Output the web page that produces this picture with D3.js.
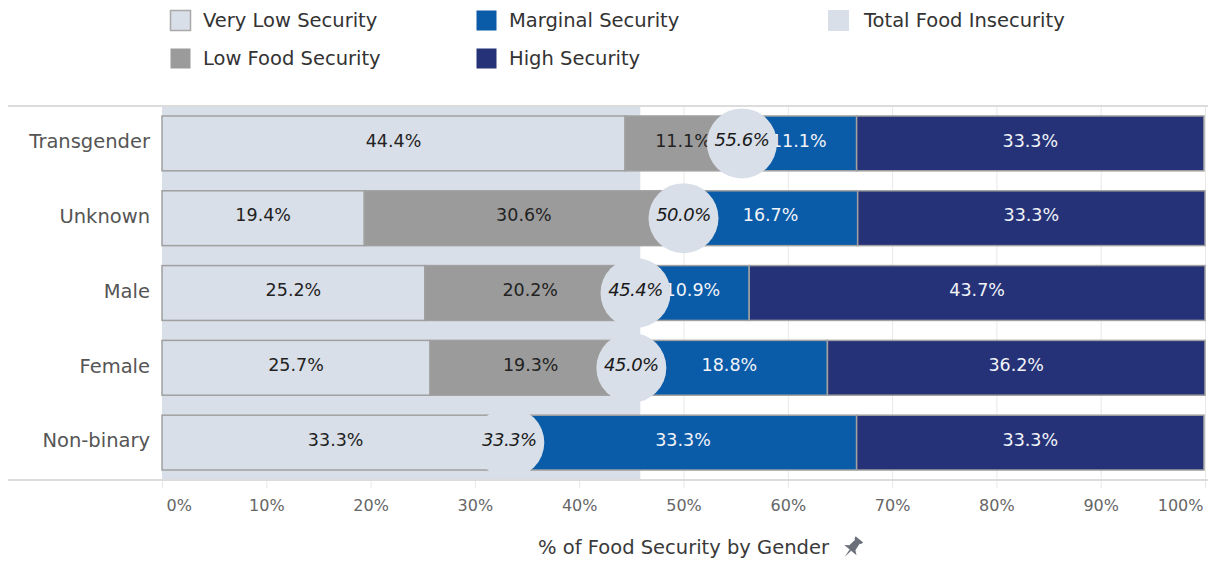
<!DOCTYPE html>
<html lang="en">
<head>
    <meta charset="UTF-8">
    <title>food security by gender</title>
    <script src="https://d3js.org/d3.v7.min.js"></script>
    <style>
    html, body {
        margin: 0;
        padding: 0;
        background: #fff;
    }
    svg text {
        font-family: "DejaVu Sans", "Open Sans", sans-serif;
    }
    .axis path { display: none; }
    .axis line { stroke: #e8e8e8; }
    .axis text { fill: #666; font-size: 16px; }
    </style>
</head>
<body>
<div id="chart"></div>
<script>

    // data (percent)
    var categories = ["Transgender", "Unknown", "Male", "Female", "Non-binary"];
    var veryLow  = [44.4, 19.4, 25.2, 25.7, 33.3];
    var lowFood  = [11.1, 30.6, 20.2, 19.3, 0];
    var marginal = [11.1, 16.7, 10.9, 18.8, 33.3];
    var high     = [33.3, 33.3, 43.7, 36.2, 33.3];
    var totalInsecurity = [55.6, 50.0, 45.4, 45.0, 33.3];

    var seriesNames = ["Very Low Security", "Low Food Security", "Marginal Security", "High Security"];
    var seriesColors = ["#d9dfe8", "#9b9b9b", "#0a5ba8", "#253278"];
    var totalColor = "#d9dfe8";

    var W = 1208, H = 561;
    var plotLeft = 162, plotRight = 1205, plotTop = 106, plotBottom = 480;

    var rows = categories.map(function(c, i) {
        return {cat: c, vl: veryLow[i], lf: lowFood[i], mg: marginal[i], hi: high[i], tot: totalInsecurity[i]};
    });
    var keys = ["vl", "lf", "mg", "hi"];
    var stacked = d3.stack().keys(keys)(rows);

    var x = d3.scaleLinear().domain([0, 100]).range([plotLeft, plotRight]);
    var y = d3.scaleBand().domain(categories).range([plotTop, plotBottom])
        .paddingInner(0.267).paddingOuter(0.1335);

    var svg = d3.select("#chart").append("svg")
        .attr("width", W)
        .attr("height", H);

    // legend
    var legendPos = [[170, 10], [170, 48], [476, 10], [476, 48]];
    var legend = svg.append("g");
    seriesNames.forEach(function(name, i) {
        var g = legend.append("g").attr("transform", "translate(" + legendPos[i][0] + "," + legendPos[i][1] + ")");
        g.append("rect")
            .attr("x", 0.5).attr("y", 0.5)
            .attr("width", 20).attr("height", 20)
            .attr("fill", seriesColors[i])
            .attr("stroke", i === 0 ? "#a9a9a9" : "none")
            .attr("stroke-width", 1.5);
        g.append("text")
            .attr("x", 33).attr("y", 17)
            .attr("font-size", 19.5)
            .attr("fill", "#333")
            .text(name);
    });
    var lt = legend.append("g").attr("transform", "translate(828,10)");
    lt.append("rect").attr("width", 21).attr("height", 21).attr("fill", totalColor);
    lt.append("text").attr("x", 36).attr("y", 17).attr("font-size", 19.5).attr("fill", "#333")
        .text("Total Food Insecurity");

    // gridlines + axis
    var xAxis = svg.append("g")
        .attr("class", "axis")
        .attr("transform", "translate(0," + plotBottom + ")")
        .call(d3.axisBottom(x).tickValues(d3.range(0, 101, 10))
            .tickSize(8)
            .tickFormat(function(d) { return d + "%"; }));
    xAxis.selectAll(".tick line").clone().attr("y1", 0).attr("y2", -(plotBottom - plotTop));
    xAxis.selectAll(".tick text").attr("y", 20).attr("dy", "0.71em");
    xAxis.selectAll(".tick text").filter(function(d) { return d === 0; })
        .attr("text-anchor", "start").attr("x", 4);
    xAxis.selectAll(".tick text").filter(function(d) { return d === 100; })
        .attr("text-anchor", "end").attr("x", -2);

    // reference band: average of total food insecurity
    var avgTotal = d3.mean(totalInsecurity);
    svg.append("rect")
        .attr("x", x(0)).attr("y", plotTop)
        .attr("width", x(avgTotal) - x(0))
        .attr("height", plotBottom - plotTop)
        .attr("fill", totalColor);

    // top and bottom rules
    svg.append("line").attr("x1", 8).attr("x2", W).attr("y1", plotTop).attr("y2", plotTop)
        .attr("stroke", "#dcdcdc").attr("stroke-width", 2);
    svg.append("line").attr("x1", 8).attr("x2", W).attr("y1", plotBottom).attr("y2", plotBottom)
        .attr("stroke", "#dcdcdc").attr("stroke-width", 2);

    // row labels
    svg.append("g").selectAll("text").data(categories).enter().append("text")
        .attr("x", 150)
        .attr("y", function(d) { return y(d) + y.bandwidth() / 2 - 2; })
        .attr("dy", "0.35em")
        .attr("text-anchor", "end")
        .attr("font-size", 19.5)
        .attr("fill", "#555")
        .text(function(d) { return d; });

    // stacked bars
    var layers = svg.append("g").selectAll("g").data(stacked).enter().append("g")
        .attr("fill", function(d, i) { return seriesColors[i]; });

    layers.selectAll("rect")
        .data(function(d) { return d.filter(function(s) { return s[1] - s[0] > 0; }); })
        .enter().append("rect")
        .attr("x", function(d) { return x(d[0]); })
        .attr("y", function(d) { return y(d.data.cat); })
        .attr("width", function(d) { return x(d[1]) - x(d[0]); })
        .attr("height", y.bandwidth())
        .attr("stroke", "#a0a0a0")
        .attr("stroke-width", 1.5);

    // segment labels
    stacked.forEach(function(layer, li) {
        svg.append("g").selectAll("text")
            .data(layer.filter(function(s) { return s[1] - s[0] > 0; }))
            .enter().append("text")
            .attr("x", function(d) { return (x(d[0]) + x(d[1])) / 2; })
            .attr("y", function(d) { return y(d.data.cat) + y.bandwidth() / 2 - 3; })
            .attr("dy", "0.35em")
            .attr("text-anchor", "middle")
            .attr("font-size", 17.5)
            .attr("fill", li < 2 ? "#222" : "#f2f4f8")
            .text(function(d) { return (d[1] - d[0]).toFixed(1) + "%"; });
    });

    // total food insecurity circles
    var dots = svg.append("g").selectAll("g").data(rows).enter().append("g")
        .attr("transform", function(d) {
            return "translate(" + x(d.tot) + "," + (y(d.cat) + y.bandwidth() / 2) + ")";
        });
    dots.append("circle").attr("r", 35).attr("fill", totalColor);
    dots.append("text")
        .attr("dy", "0.33em")
        .attr("y", -3)
        .attr("text-anchor", "middle")
        .attr("font-size", 18)
        .attr("letter-spacing", -0.5)
        .attr("font-style", "italic")
        .attr("fill", "#1a1a1a")
        .text(function(d) { return d.tot.toFixed(1) + "%"; });

    // axis title with pin
    var title = svg.append("text")
        .attr("x", (plotLeft + plotRight) / 2)
        .attr("y", 554)
        .attr("text-anchor", "middle")
        .attr("font-size", 19.5)
        .attr("fill", "#3a3a3a")
        .text("% of Food Security by Gender");
    var tw = title.node().getComputedTextLength();
    var pin = svg.append("g")
        .attr("transform", "translate(" + ((plotLeft + plotRight) / 2 + tw / 2 + 24) + ",547) rotate(40)")
        .attr("fill", "#6a6f7a");
    pin.append("path").attr("d", "M-5,-10 L5,-10 L4,-7 L3,-7 L4,1 L8,4 L-8,4 L-4,1 L-3,-7 L-4,-7 Z");
    pin.append("path").attr("d", "M-1,4 L1,4 L0,13 Z");

</script>
</body>
</html>
